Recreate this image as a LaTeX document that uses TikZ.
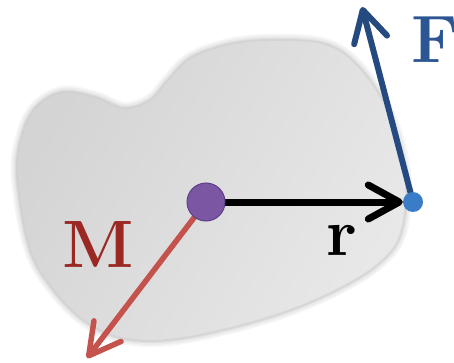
\documentclass[tikz,border=0pt]{standalone}
\usepackage{fontspec}
\usetikzlibrary{arrows.meta,backgrounds}
\definecolor{arrred}{HTML}{C4524D}
\definecolor{txtred}{HTML}{9A2823}
\definecolor{dotpurple}{HTML}{7B56A2}
\definecolor{dotpurpleedge}{HTML}{5F3F88}
\definecolor{dotblue}{HTML}{3B7CC8}
\definecolor{arrblue}{HTML}{244A80}
\definecolor{txtblue}{HTML}{2C5594}
\tikzset{
  vec/.style={line width=#1, line cap=round, line join=round},
  barb/.style={-{Straight Barb[length=31pt,width=34pt,line cap=round,line join=round]}},
  lbl/.style={inner sep=0pt, anchor=base west, font=\fontsize{67}{67}\selectfont\bfseries},
  blobpath/.style={smooth cycle, tension=0.6}
}
\begin{document}
\begin{tikzpicture}[x=1pt,y=-1pt]
\useasboundingbox (0,0) rectangle (454,363);
% points
\node[circle, minimum size=38pt, inner sep=0pt, fill=dotpurple, draw=dotpurpleedge, line width=1pt] (P) at (206,202) {};
\node[circle, minimum size=20pt, inner sep=0pt, fill=dotblue] (B) at (413,202) {};
\coordinate (Ftip) at (362,7);
\coordinate (Mtip) at (87,358);
% labels
\node[lbl, text=txtred] (Mlab) at (62,267) {M};
\node[lbl, text=black] (rlab) at (326,255) {r};
\node[lbl, text=txtblue] (Flab) at (411,63) {F};
\begin{scope}[on background layer]
  \def\blob{(17,178) (21,138) (35,108) (62,92) (95,97) (124,108) (150,100) (168,80) (192,57) (235,43) (285,40) (328,45) (358,66) (385,105) (401,150) (406,195) (399,238) (378,264) (342,287) (290,310) (230,328) (168,340) (122,338) (86,322) (55,292) (30,250)}
  \draw[black!4, line width=12pt] plot[blobpath] coordinates {\blob};
  \draw[black!8, line width=8pt] plot[blobpath] coordinates {\blob};
  \draw[black!13, line width=4pt] plot[blobpath] coordinates {\blob};
  \shade[left color=black!17, right color=black!9, shading angle=60] plot[blobpath] coordinates {\blob};
  \draw[black!22, line width=2pt, opacity=0.35] plot[blobpath] coordinates {\blob};
  % vectors
  \draw[vec=5.5pt, arrred, barb] (P.center) -- (Mtip);
  \draw[vec=7pt, black, barb] (P.center) -- (B.west);
  \draw[vec=6pt, arrblue, barb] (B.center) -- (Ftip);
\end{scope}
\end{tikzpicture}
\end{document}
